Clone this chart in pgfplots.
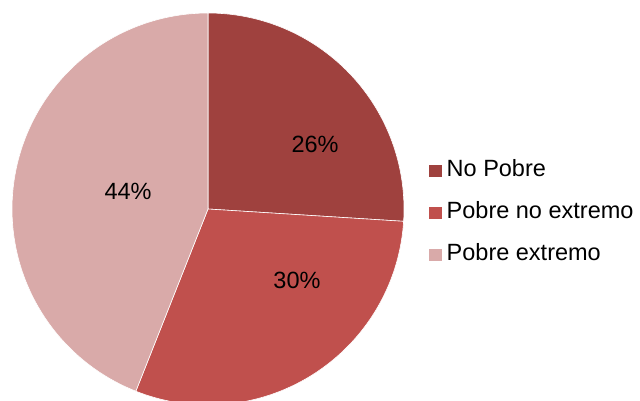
\documentclass[border=0pt]{standalone}
\usepackage{fontspec}
\setmainfont{Liberation Sans}
\usepackage{pgfplots}
\pgfplotsset{compat=1.18}
\definecolor{cA}{HTML}{9F413E}
\definecolor{cB}{HTML}{C0504D}
\definecolor{cC}{HTML}{D9AAA9}
\begin{document}
\begin{tikzpicture}
\useasboundingbox (0pt,0pt) rectangle (640pt,401pt);
% data (percent)
\def\vA{26}\def\vB{30}\def\vC{44}
\pgfmathsetmacro{\aA}{90}
\pgfmathsetmacro{\aB}{\aA-\vA*3.6}
\pgfmathsetmacro{\aC}{\aB-\vB*3.6}
\pgfmathsetmacro{\aD}{\aC-\vC*3.6}
\begin{axis}[at={(208pt,192pt)}, anchor=center, scale only axis,
  width=392pt, height=392pt, xmin=-1, xmax=1, ymin=-1, ymax=1,
  hide axis, clip=false,
  legend cell align=left,
  legend image code/.code={\fill[#1,draw=none] (0pt,-6.25pt) rectangle (12.5pt,6.25pt);},
  legend style={draw=none, fill=none, at={(1.0638,0.49)}, anchor=west,
    inner sep=0pt, row sep=19.5pt,
    font=\fontsize{23.5}{27}\selectfont,
    nodes={inner xsep=5pt, inner ysep=0pt, text height=17pt, text depth=5.5pt}},
]
\addplot[fill=cA, draw=white, line width=0.6pt, domain=\aB:\aA, samples=120, variable=\t]
  ({cos(\t)},{sin(\t)}) -- (axis cs:0,0) -- cycle;
\addlegendentry{No Pobre}
\addplot[fill=cB, draw=white, line width=0.6pt, domain=\aC:\aB, samples=120, variable=\t]
  ({cos(\t)},{sin(\t)}) -- (axis cs:0,0) -- cycle;
\addlegendentry{Pobre no extremo}
\addplot[fill=cC, draw=white, line width=0.6pt, domain=\aD:\aC, samples=160, variable=\t]
  ({cos(\t)},{sin(\t)}) -- (axis cs:0,0) -- cycle;
\addlegendentry{Pobre extremo}
\node[font=\fontsize{23.5}{27}\selectfont] at (axis cs:0.546,0.327) {26\%};
\node[font=\fontsize{23.5}{27}\selectfont] at (axis cs:0.454,-0.362) {30\%};
\node[font=\fontsize{23.5}{27}\selectfont] at (axis cs:-0.408,0.092) {44\%};
\end{axis}
\end{tikzpicture}
\end{document}
